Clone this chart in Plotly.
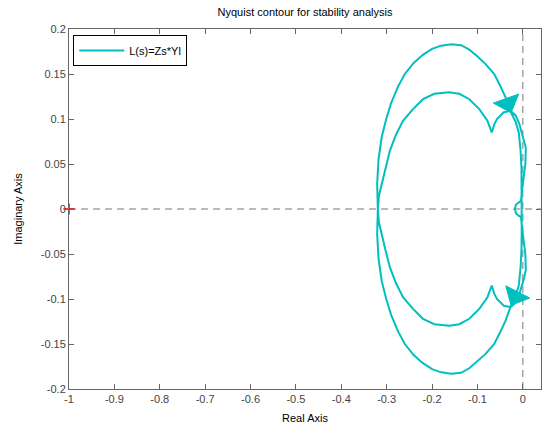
import plotly.graph_objects as go

# Upper half (Im >= 0) of the two lobes of L(jw); the lower half is the mirror image.
outer_re = [-0.3195, -0.321, -0.318, -0.311, -0.301, -0.290, -0.275, -0.260, -0.241,
            -0.221, -0.200, -0.180, -0.158, -0.136, -0.118, -0.101, -0.082, -0.063,
            -0.050, -0.038, -0.026, -0.016, -0.009, -0.005, -0.003, -0.0025, -0.002]
outer_im = [0.0, 0.028, 0.055, 0.080, 0.100, 0.118, 0.136, 0.150, 0.162,
            0.171, 0.178, 0.1815, 0.183, 0.182, 0.177, 0.170, 0.161, 0.150,
            0.137, 0.124, 0.107, 0.097, 0.085, 0.065, 0.045, 0.025, 0.0]

inner_re = [-0.3195, -0.317, -0.311, -0.303, -0.293, -0.280, -0.264, -0.242, -0.220,
            -0.195, -0.162, -0.140, -0.118, -0.096, -0.078, -0.0685, -0.063, -0.057,
            -0.042, -0.027, -0.016, -0.008, 0.002, 0.0066, 0.0055, 0.001, -0.002,
            -0.004, -0.010, -0.015, -0.0175]
inner_im = [0.0, 0.015, 0.0275, 0.045, 0.0646, 0.082, 0.098, 0.111, 0.122,
            0.128, 0.1296, 0.128, 0.122, 0.111, 0.098, 0.085, 0.094, 0.100,
            0.1075, 0.109, 0.104, 0.095, 0.078, 0.068, 0.050, 0.035, 0.020,
            0.009, 0.0072, 0.005, 0.0]

# Index on the outer lobe where the direction arrows sit
arrow_index = 20

critical_re = [-1]
critical_im = [0]

x_ticks = [-1, -0.9, -0.8, -0.7, -0.6, -0.5, -0.4, -0.3, -0.2, -0.1, 0]
x_labels = ["-1", "-0.9", "-0.8", "-0.7", "-0.6", "-0.5", "-0.4", "-0.3", "-0.2", "-0.1", "0"]
y_ticks = [0.2, 0.15, 0.1, 0.05, 0, -0.05, -0.1, -0.15, -0.2]
y_labels = ["0.2", "0.15", "0.1", "0.05", "0", "-0.05", "-0.1", "-0.15", "-0.2"]

x_range = [-1, 0.04]
y_range = [-0.2, 0.2]

W, H = 544, 430
M = dict(l=69, r=3, t=29, b=41)
plot_w = W - M["l"] - M["r"]
plot_h = H - M["t"] - M["b"]
sx = plot_w / (x_range[1] - x_range[0])   # pixels per unit, real axis
sy = plot_h / (y_range[1] - y_range[0])   # pixels per unit, imaginary axis

COLOR = "#00BFBF"

# Full closed contour: outer lobe above then below, inner lobe above then below
contour_re = outer_re + outer_re[::-1] + inner_re + inner_re[::-1]
contour_im = (outer_im + [-v for v in outer_im[::-1]]
              + inner_im + [-v for v in inner_im[::-1]])


def arrow_head(re, im, i, step, length=15, width=27):
    """Filled triangle whose tip sits on point i, pointing along the curve."""
    x0, y0 = re[i - step] * sx, im[i - step] * sy
    x1, y1 = re[i] * sx, im[i] * sy
    dx, dy = x1 - x0, y1 - y0
    n = (dx * dx + dy * dy) ** 0.5
    dx, dy = dx / n, dy / n
    bx, by = x1 - length * dx, y1 - length * dy
    px, py = -dy, dx
    pts = [(x1, y1),
           (bx + width / 2 * px, by + width / 2 * py),
           (bx - width / 2 * px, by - width / 2 * py),
           (x1, y1)]
    return [p[0] / sx for p in pts], [p[1] / sy for p in pts]


fig = go.Figure()

fig.add_trace(go.Scatter(
    x=contour_re, y=contour_im, mode="lines",
    line=dict(color=COLOR, width=2),
    name="L(s)=Zs*Yl", showlegend=True,
))

# Direction arrows: upper branch runs toward the axis, mirrored branch away from it
for re, im, step in [(outer_re, outer_im, 1), (outer_re, [-v for v in outer_im], -1)]:
    ax, ay = arrow_head(re, im, arrow_index, step)
    fig.add_trace(go.Scatter(
        x=ax, y=ay, mode="lines", fill="toself", fillcolor=COLOR,
        line=dict(color=COLOR, width=1), showlegend=False, hoverinfo="skip",
    ))

# Critical point -1 + j0
fig.add_trace(go.Scatter(
    x=critical_re, y=critical_im, mode="markers",
    marker=dict(symbol="cross-thin", size=8, line=dict(color="red", width=1.5)),
    showlegend=False, cliponaxis=False,
))

dash_line = dict(color="#7a7a7a", width=1, dash="7px,5px")
fig.add_shape(type="line", xref="paper", yref="y", x0=0, x1=1, y0=0, y1=0,
              line=dash_line, layer="below")
fig.add_shape(type="line", xref="x", yref="paper", x0=0, x1=0, y0=0, y1=1,
              line=dash_line, layer="below")

axis_common = dict(
    showline=True, linecolor="#666666", linewidth=1, mirror="ticks",
    ticks="inside", ticklen=5, tickcolor="#666666", tickwidth=1,
    showgrid=False, zeroline=False,
    tickfont=dict(family="Liberation Sans, Arial, sans-serif", size=11, color="#444444"),
)

fig.update_layout(
    width=W, height=H, margin=M,
    paper_bgcolor="white", plot_bgcolor="white",
    font=dict(family="Liberation Sans, Arial, sans-serif", size=11, color="#000000"),
    title=dict(text="Nyquist contour for stability analysis",
               x=0.5, xanchor="center", xref="paper",
               y=1 - 12 / H, yanchor="middle", yref="container",
               font=dict(size=11, color="#000000")),
    xaxis=dict(range=x_range, tickvals=x_ticks, ticktext=x_labels,
               title=dict(text="Real Axis", standoff=10, font=dict(size=11)),
               **axis_common),
    yaxis=dict(range=y_range, tickvals=y_ticks, ticktext=y_labels,
               title=dict(text="Imaginary Axis", standoff=15, font=dict(size=11)),
               **axis_common),
    legend=dict(x=0.009, y=0.983, xanchor="left", yanchor="top",
                bgcolor="white", bordercolor="#000000", borderwidth=1,
                itemwidth=45,
                font=dict(size=11, color="#000000")),
    showlegend=True,
)

fig.write_html("out.html")
